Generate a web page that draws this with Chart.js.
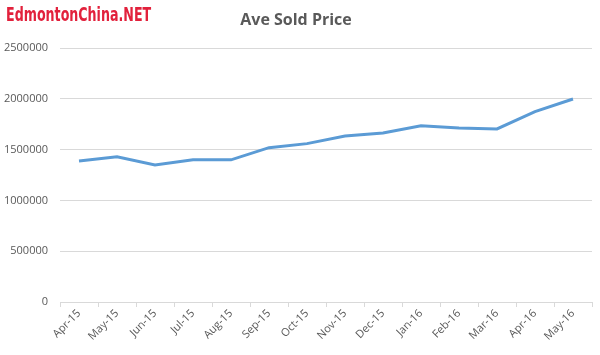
<!DOCTYPE html>
<html>
<head>
<meta charset="utf-8">
<script src="https://cdn.jsdelivr.net/npm/chart.js@4/dist/chart.umd.min.js"></script>
<style>
  body { margin: 0; background: #fff; }
  #wrap { position: relative; width: 600px; height: 355px; }
  #logo {
    position: absolute; left: 6px; top: 3px;
    font-family: "Liberation Sans Narrow", "DejaVu Sans Condensed", sans-serif;
    font-weight: bold; font-size: 19px; color: #e2213c;
    transform: scaleX(0.74); transform-origin: left top;
  }
</style>
</head>
<body>
<div id="wrap">
  <canvas id="myChart" width="600" height="355"></canvas>
  <div id="logo">EdmontonChina.NET</div>
</div>
<script>
// months and average sold price
var months = ['Apr-15', 'May-15', 'Jun-15', 'Jul-15', 'Aug-15', 'Sep-15', 'Oct-15',
    'Nov-15', 'Dec-15', 'Jan-16', 'Feb-16', 'Mar-16', 'Apr-16', 'May-16'];
var avePrice = [1390000, 1430000, 1350000, 1400000, 1400000, 1520000, 1560000,
    1635000, 1665000, 1735000, 1715000, 1705000, 1875000, 2000000];
var yTicks = [0, 500000, 1000000, 1500000, 2000000, 2500000];

var ctx = document.getElementById('myChart');

var myChart = new Chart(ctx, {
    type: 'line',
    data: {
        labels: months,
        datasets: [{
            label: 'Ave Sold Price',
            data: avePrice,
            borderColor: '#5b9bd5',
            borderWidth: 3,
            pointRadius: 0,
            tension: 0,
            fill: false
        }]
    },
    options: {
        responsive: false,
        animation: false,
        layout: { padding: { left: 0, right: 8, top: 0, bottom: 0 } },
        plugins: {
            legend: { display: false },
            tooltip: { enabled: false },
            title: {
                display: true,
                text: 'Ave Sold Price',
                color: '#595959',
                font: { family: 'Open Sans', size: 16, weight: 'bold' },
                padding: { top: 11, bottom: 18 }
            }
        },
        scales: {
            y: {
                min: 0,
                max: 2500000,
                afterBuildTicks: function (scale) {
                    scale.ticks = yTicks.map(function (v) { return { value: v }; });
                },
                afterFit: function (scale) { scale.width = 60; },
                grid: { color: '#d9d9d9', drawTicks: false },
                border: { display: false },
                ticks: {
                    color: '#595959',
                    padding: 12,
                    font: { family: 'Open Sans', size: 11 },
                    callback: function (v) { return v; }
                }
            },
            x: {
                offset: true,
                afterFit: function (scale) { scale.height = 53; },
                grid: {
                    offset: true,
                    drawOnChartArea: false,
                    color: '#d9d9d9',
                    tickLength: 5
                },
                border: { color: '#d9d9d9' },
                ticks: {
                    color: '#595959',
                    maxRotation: 45,
                    minRotation: 45,
                    autoSkip: false,
                    padding: 0,
                    font: { family: 'Open Sans', size: 11 }
                }
            }
        }
    }
});
</script>
</body>
</html>
